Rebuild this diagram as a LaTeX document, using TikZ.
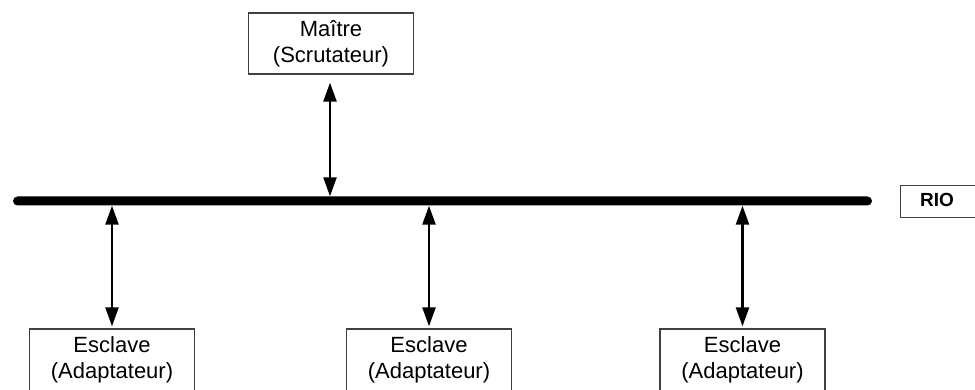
\documentclass[tikz,border=0pt]{standalone}
\usepackage{fontspec}
\setmainfont{Liberation Sans}
\usetikzlibrary{arrows.meta}
\begin{document}
\begin{tikzpicture}[x=1pt,y=-1pt,
  box/.style={draw=black!75, line width=1.3pt, minimum width=165pt, minimum height=61pt,
    align=center, font=\fontsize{22}{26}\selectfont, inner sep=0pt},
  link/.style={line width=2.4pt,
    {Triangle[length=19pt,width=13pt]}-{Triangle[length=19pt,width=13pt]}},
  busline/.style={fill=black, minimum width=859pt, minimum height=9pt,
    rounded corners=4.5pt, inner sep=0pt},
]
\useasboundingbox (0,0) rectangle (975,390);
\node[box] (master) at (331,43.5) {Maître\\(Scrutateur)};
\node[busline] (bus) at (442.5,201) {};
\node[box, minimum height=62pt] (s1) at (112,360) {Esclave\\(Adaptateur)};
\node[box, minimum height=62pt] (s2) at (429,360) {Esclave\\(Adaptateur)};
\node[box, minimum height=62pt] (s3) at (742.5,360) {Esclave\\(Adaptateur)};
\node[draw=black!75, line width=1.3pt, minimum width=90pt, minimum height=32pt,
  anchor=north west, inner sep=0pt] (riobox) at (900,185) {};
\node[font=\bfseries\fontsize{19}{22}\selectfont, inner sep=0pt] (rio) at (937,200) {RIO};
\draw[link] ([xshift=-1pt,yshift=-8pt]master.south) -- ([xshift=-1pt]master.south |- bus.north);
\draw[link] ([yshift=2pt]s1.north) -- (s1.north |- bus.south);
\draw[link] ([yshift=2pt]s2.north) -- (s2.north |- bus.south);
\draw[link] ([yshift=2pt]s3.north) -- (s3.north |- bus.south);
\end{tikzpicture}
\end{document}
